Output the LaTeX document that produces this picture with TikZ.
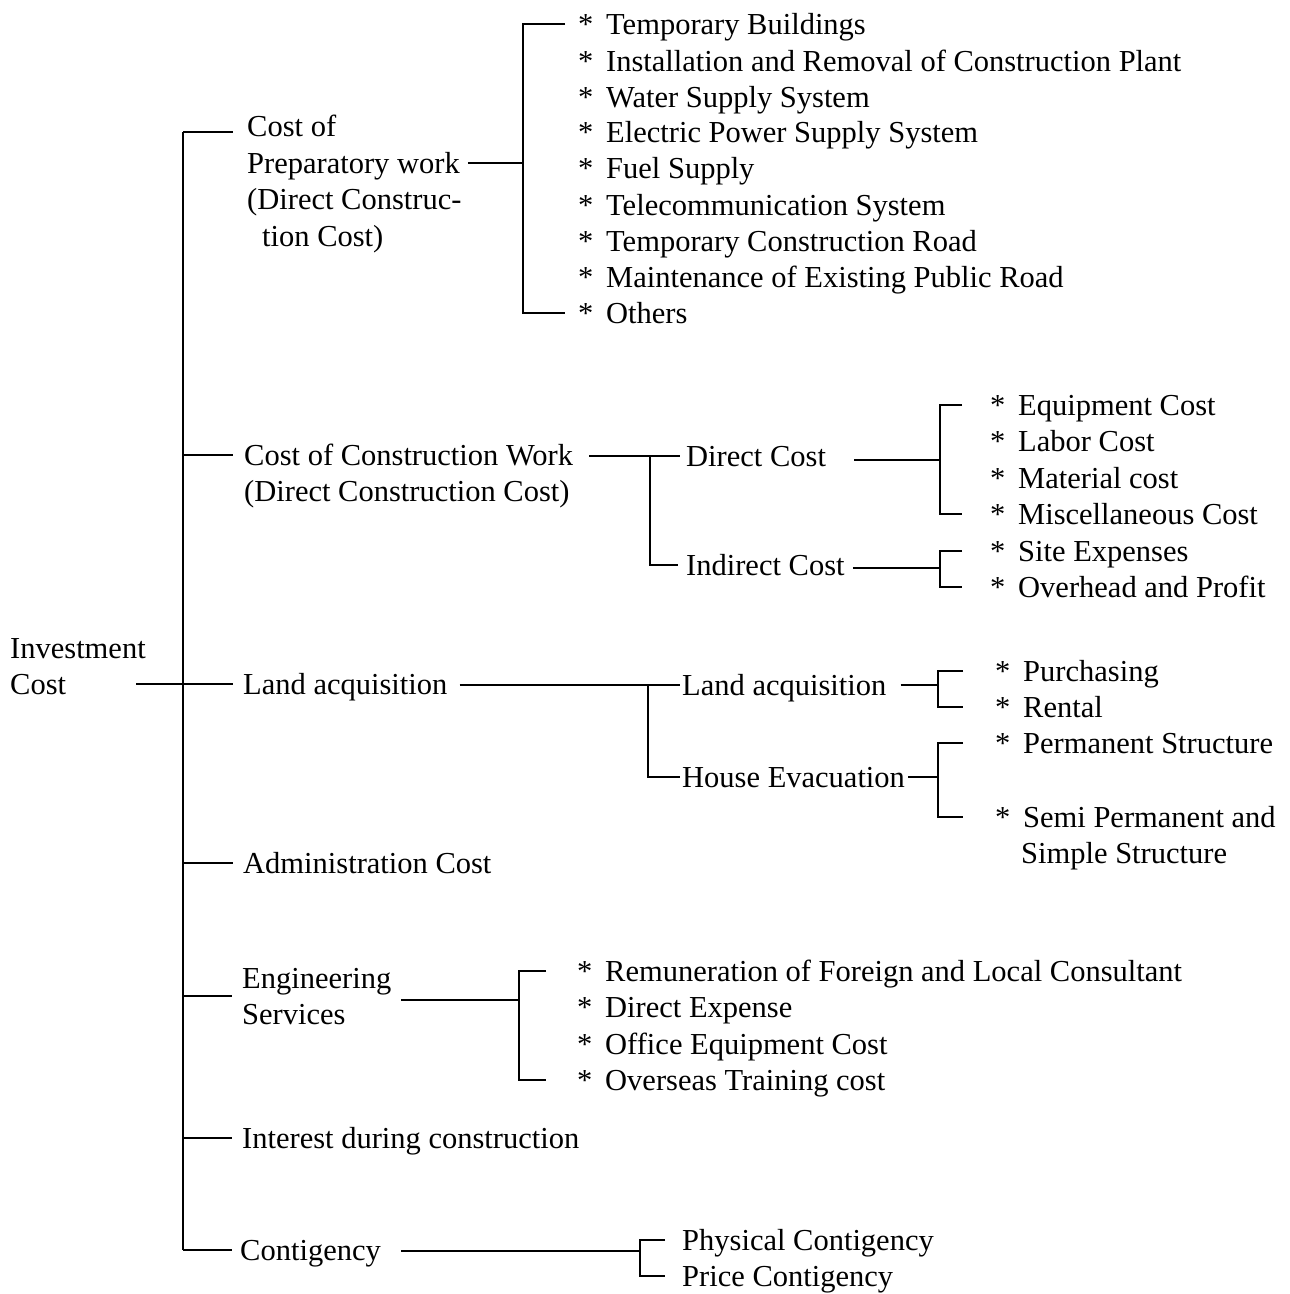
\documentclass[tikz,border=0pt]{standalone}
\usepackage{fontspec}
\setmainfont{Liberation Serif}
\begin{document}
\begin{tikzpicture}[x=1pt,y=-1pt,
  lbl/.style={anchor=west, inner sep=0pt, text height=22pt, text depth=2pt, font=\fontsize{30.5}{36}\selectfont},
  item/.style={lbl, execute at begin node={\makebox[28pt][l]{*}}},
  ln/.style={line width=1.5pt}]
\useasboundingbox (0,0) rectangle (1290,1294);

% root
\node[lbl] (inv1) at (10,648) {Investment};
\node[lbl] (inv2) at (10,684) {Cost};
\coordinate (sp1) at (183,132);
\coordinate (sp7) at (183,1250);
\draw[ln] (sp1) -- (sp7);
\draw[ln] ([xshift=70pt]inv2.east) -- (inv2.east -| sp1);

% level 1 labels
\node[lbl] (p1) at (247,126) {Cost of};
\node[lbl] (p2) at (247,163) {Preparatory work};
\node[lbl] (p3) at (247,199) {(Direct Construc-};
\node[lbl] (p4) at (262,236) {tion Cost)};
\node[lbl] (c1) at (244,455) {Cost of Construction Work};
\node[lbl] (c2) at (244,491) {(Direct Construction Cost)};
\node[lbl] (l1) at (243,684) {Land acquisition};
\node[lbl] (ad) at (243,863) {Administration Cost};
\node[lbl] (e1) at (242,978) {Engineering};
\node[lbl] (e2) at (242,1014) {Services};
\node[lbl] (ic) at (242,1138) {Interest during construction};
\node[lbl] (co) at (240,1250) {Contigency};

% spine branches
\draw[ln] (sp1) -- (233,132);
\draw[ln] (c1.west -| sp1) -- ([xshift=-11pt]c1.west);
\draw[ln] (l1.west -| sp1) -- ([xshift=-10pt]l1.west);
\draw[ln] (ad.west -| sp1) -- ([xshift=-10pt]ad.west);
\draw[ln] (183,996) -- (232,996);
\draw[ln] (ic.west -| sp1) -- ([xshift=-10pt]ic.west);
\draw[ln] (sp7) -- ([xshift=-8pt]co.west);

% preparatory work items
\node[item] (a1) at (578,24) {Temporary Buildings};
\node[item] (a2) at (578,61) {Installation and Removal of Construction Plant};
\node[item] (a3) at (578,97) {Water Supply System};
\node[item] (a4) at (578,132) {Electric Power Supply System};
\node[item] (a5) at (578,168) {Fuel Supply};
\node[item] (a6) at (578,205) {Telecommunication System};
\node[item] (a7) at (578,241) {Temporary Construction Road};
\node[item] (a8) at (578,277) {Maintenance of Existing Public Road};
\node[item] (a9) at (578,313) {Others};
\coordinate (b1) at (523,163);
\draw[ln] ([xshift=8pt]p2.east) -- (p2.east -| b1);
\draw[ln] ([xshift=-13pt]a1.west) -- (a1.west -| b1) -- (a9.west -| b1) -- ([xshift=-13pt]a9.west);

% construction work
\node[lbl] (dc) at (686,456) {Direct Cost};
\node[lbl] (ind) at (686,565) {Indirect Cost};
\coordinate (b2) at (650,456);
\draw[ln] ([xshift=16pt]c1.east |- dc.west) -- ([xshift=-6pt]dc.west);
\draw[ln] (b2) -- (ind.west -| b2) -- ([xshift=-8pt]ind.west);

\node[item] (d1) at (990,405) {Equipment Cost};
\node[item] (d2) at (990,441) {Labor Cost};
\node[item] (d3) at (990,478) {Material cost};
\node[item] (d4) at (990,514) {Miscellaneous Cost};
\coordinate (b3) at (940,460);
\draw[ln] ([xshift=28pt]dc.east |- b3) -- (b3);
\draw[ln] ([xshift=-28pt]d1.west) -- (d1.west -| b3) -- (d4.west -| b3) -- ([xshift=-28pt]d4.west);

\node[item] (i1) at (990,551) {Site Expenses};
\node[item] (i2) at (990,587) {Overhead and Profit};
\coordinate (b4) at (940,568);
\draw[ln] ([xshift=8pt]ind.east |- b4) -- (b4);
\draw[ln] ([xshift=-28pt]i1.west) -- (i1.west -| b4) -- (i2.west -| b4) -- ([xshift=-28pt]i2.west);

% land acquisition
\node[lbl] (la) at (682,685) {Land acquisition};
\node[lbl] (he) at (682,777) {House Evacuation};
\coordinate (b5) at (648,685);
\draw[ln] ([xshift=12pt]l1.east |- la.west) -- ([xshift=-2pt]la.west);
\draw[ln] (b5) -- (he.west -| b5) -- ([xshift=-2pt]he.west);

\node[item] (g1) at (995,671) {Purchasing};
\node[item] (g2) at (995,707) {Rental};
\coordinate (b6) at (938,685);
\draw[ln] ([xshift=14pt]la.east |- b6) -- (b6);
\draw[ln] ([xshift=-32pt]g1.west) -- (g1.west -| b6) -- (g2.west -| b6) -- ([xshift=-32pt]g2.west);

\node[item] (h1) at (995,743) {Permanent Structure};
\node[item] (h2) at (995,817) {Semi Permanent and};
\node[lbl] (h3) at (1021,853) {Simple Structure};
\coordinate (b7) at (938,777);
\draw[ln] ([xshift=3pt]he.east) -- (b7);
\draw[ln] ([xshift=-32pt]h1.west) -- (h1.west -| b7) -- (h2.west -| b7) -- ([xshift=-32pt]h2.west);

% engineering services
\node[item] (s1) at (577,971) {Remuneration of Foreign and Local Consultant};
\node[item] (s2) at (577,1007) {Direct Expense};
\node[item] (s3) at (577,1044) {Office Equipment Cost};
\node[item] (s4) at (577,1080) {Overseas Training cost};
\coordinate (b8) at (519,1000);
\draw[ln] ([xshift=10pt]e1.east |- b8) -- (b8);
\draw[ln] ([xshift=-31pt]s1.west) -- (s1.west -| b8) -- (s4.west -| b8) -- ([xshift=-31pt]s4.west);

% contigency
\node[lbl] (k1) at (682,1240) {Physical Contigency};
\node[lbl] (k2) at (682,1276) {Price Contigency};
\coordinate (b9) at (640,1251);
\draw[ln] ([xshift=20pt]co.east |- b9) -- (b9);
\draw[ln] ([xshift=-17pt]k1.west) -- (k1.west -| b9) -- (k2.west -| b9) -- ([xshift=-17pt]k2.west);
\end{tikzpicture}
\end{document}
